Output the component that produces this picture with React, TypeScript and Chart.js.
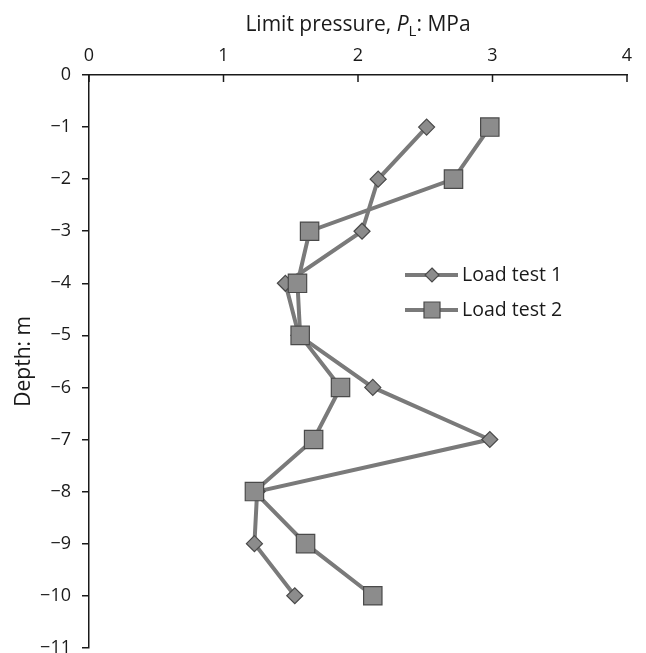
import React, { useEffect, useRef } from "react";
import { Chart, registerables } from "chart.js";

Chart.register(...registerables);

const depths = [-1, -2, -3, -4, -5, -6, -7, -8, -9, -10];
const loadTest1 = [2.51, 2.15, 2.03, 1.46, 1.56, 2.11, 2.98, 1.25, 1.23, 1.53];
const loadTest2 = [2.98, 2.71, 1.64, 1.55, 1.57, 1.87, 1.67, 1.23, 1.61, 2.11];
const seriesNames = ["Load test 1", "Load test 2"];
const xTicks = [0, 1, 2, 3, 4];

const FONT = "'Open Sans', 'Noto Sans', sans-serif";
const LINE = "#7a7a7a";
const FILL = "#8c8c8c";
const EDGE = "#4a4a4a";

const toPoints = (xs: number[]) => xs.map((x, i) => ({ x, y: depths[i] }));
const minus = (v: number) => (v < 0 ? "\u2212" + Math.abs(v) : String(v));

const decorPlugin = {
  id: "decor",
  afterDraw(chart: any) {
    const ctx = chart.ctx;
    const xs = chart.scales.x;
    const area = chart.chartArea;
    ctx.save();
    // inward ticks on top x axis
    ctx.strokeStyle = "#1a1a1a";
    ctx.lineWidth = 1.5;
    xTicks.forEach((v) => {
      const px = xs.getPixelForValue(v);
      ctx.beginPath();
      ctx.moveTo(px, area.top);
      ctx.lineTo(px, area.top + 7);
      ctx.stroke();
    });
    // x axis title with italic P and subscript L
    const size = 21;
    const parts = [
      { t: "Limit pressure, ", f: `${size}px ${FONT}`, dy: 0 },
      { t: "P", f: `italic ${size}px ${FONT}`, dy: 0 },
      { t: "L", f: `${Math.round(size * 0.7)}px ${FONT}`, dy: 5 },
      { t: ": MPa", f: `${size}px ${FONT}`, dy: 0 },
    ];
    let total = 0;
    parts.forEach((p) => {
      ctx.font = p.f;
      total += ctx.measureText(p.t).width;
    });
    let x = xs.getPixelForValue(2) - total / 2;
    const baseY = 31;
    ctx.fillStyle = "#1a1a1a";
    ctx.textBaseline = "alphabetic";
    ctx.textAlign = "left";
    parts.forEach((p) => {
      ctx.font = p.f;
      ctx.fillText(p.t, x, baseY + p.dy);
      x += ctx.measureText(p.t).width;
    });
    // legend
    const legendX = 405;
    const rows = [275, 310];
    seriesNames.forEach((name, i) => {
      const y = rows[i];
      ctx.strokeStyle = LINE;
      ctx.lineWidth = 4;
      ctx.beginPath();
      ctx.moveTo(legendX, y);
      ctx.lineTo(legendX + 53, y);
      ctx.stroke();
      const cx = legendX + 27;
      ctx.fillStyle = FILL;
      ctx.strokeStyle = EDGE;
      ctx.lineWidth = 1.2;
      ctx.beginPath();
      if (i === 0) {
        const r = 7;
        ctx.moveTo(cx, y - r);
        ctx.lineTo(cx + r, y);
        ctx.lineTo(cx, y + r);
        ctx.lineTo(cx - r, y);
        ctx.closePath();
      } else {
        const s = 8;
        ctx.rect(cx - s, y - s, 2 * s, 2 * s);
      }
      ctx.fill();
      ctx.stroke();
      ctx.fillStyle = "#1a1a1a";
      ctx.font = `19.5px ${FONT}`;
      ctx.textBaseline = "middle";
      ctx.fillText(name, legendX + 57, y);
    });
    ctx.restore();
  },
};

export default function App() {
  const ref = useRef<HTMLCanvasElement | null>(null);
  useEffect(() => {
    if (!ref.current) return;
    const chart = new Chart(ref.current, {
      type: "scatter",
      data: {
        datasets: [
          {
            label: seriesNames[0],
            data: toPoints(loadTest1),
            showLine: true,
            borderColor: LINE,
            borderWidth: 4,
            pointStyle: "rectRot",
            pointRadius: 8,
            pointBackgroundColor: FILL,
            pointBorderColor: EDGE,
            pointBorderWidth: 1.2,
            order: 1,
          },
          {
            label: seriesNames[1],
            data: toPoints(loadTest2),
            showLine: true,
            borderColor: LINE,
            borderWidth: 4,
            pointStyle: "rect",
            pointRadius: 13,
            pointBackgroundColor: FILL,
            pointBorderColor: EDGE,
            pointBorderWidth: 1.2,
            order: 0,
          },
        ],
      },
      options: {
        responsive: false,
        animation: false,
        layout: { padding: { left: 0, right: 19, top: 0, bottom: 7 } },
        plugins: {
          legend: { display: false },
          tooltip: { enabled: false },
          title: { display: false },
        },
        scales: {
          x: {
            type: "linear",
            position: "top",
            min: 0,
            max: 4,
            afterBuildTicks: (s: any) => {
              s.ticks = xTicks.map((v) => ({ value: v }));
            },
            afterFit: (s: any) => {
              s.height = 75;
              s.paddingLeft = 0;
              s.paddingRight = 0;
            },
            ticks: {
              font: { size: 18, family: FONT },
              color: "#1a1a1a",
              padding: 0,
            },
            grid: { display: false },
            border: { display: true, color: "#1a1a1a", width: 1.5 },
          },
          y: {
            type: "linear",
            min: -11,
            max: 0,
            afterBuildTicks: (s: any) => {
              const t = [];
              for (let v = 0; v >= -11; v--) t.push({ value: v });
              s.ticks = t;
            },
            afterFit: (s: any) => {
              s.width = 89;
              s.paddingTop = 0;
              s.paddingBottom = 0;
            },
            ticks: {
              font: { size: 18, family: FONT },
              color: "#1a1a1a",
              padding: 11,
              callback: (v: any) => minus(Number(v)),
            },
            grid: {
              display: true,
              drawOnChartArea: false,
              drawTicks: true,
              tickLength: 7,
              color: "#1a1a1a",
              lineWidth: 1.5,
            },
            border: { display: true, color: "#1a1a1a", width: 1.5 },
            title: {
              display: true,
              text: "Depth: m",
              font: { size: 21, family: FONT },
              color: "#1a1a1a",
              padding: { top: 11, bottom: 0 },
            },
          },
        },
      },
      plugins: [decorPlugin],
    });
    return () => chart.destroy();
  }, []);
  return (
    <canvas
      ref={ref}
      width={646}
      height={662}
      style={{ position: "fixed", left: 0, top: 0, background: "#fff" }}
    />
  );
}
